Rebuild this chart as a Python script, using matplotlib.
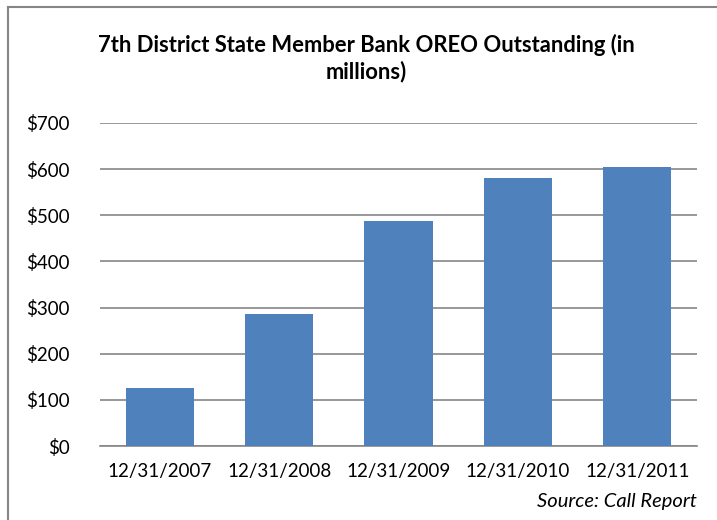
import matplotlib
matplotlib.use("Agg")
import matplotlib.pyplot as plt
from matplotlib.lines import Line2D
from matplotlib.ticker import FuncFormatter

categories = ["12/31/2007", "12/31/2008", "12/31/2009", "12/31/2010", "12/31/2011"]
values = [125, 286, 487, 580, 605]
yticks = [0, 100, 200, 300, 400, 500, 600, 700]

plt.rcParams['font.family'] = ['Lato', 'DejaVu Sans']

W, H = 717, 520
fig = plt.figure(figsize=(W/100, H/100), dpi=100)
ax = fig.add_axes([100/W, 1-446/H, 597/W, (446-123)/H])

x = list(range(len(categories)))
ax.bar(x, values, width=0.57, color="#4F81BD", zorder=3)
ax.set_xlim(-0.5, len(categories)-0.5)
ax.set_ylim(0, 700)
ax.set_yticks(yticks)
ax.yaxis.set_major_formatter(FuncFormatter(lambda v, p: f"${int(v)}"))
ax.set_xticks(x)
ax.set_xticklabels(categories)
ax.grid(axis='y', color='#868686', linewidth=1.2, zorder=0)
for s in ['top', 'right', 'left']:
    ax.spines[s].set_visible(False)
ax.spines['bottom'].set_color('#868686')
ax.spines['bottom'].set_linewidth(1.2)
ax.tick_params(axis='both', length=0, labelsize=13.5, colors='black')
ax.tick_params(axis='y', pad=22)
ax.tick_params(axis='x', pad=12)

fig.text(366/W, 1-58/H, "7th District State Member Bank OREO Outstanding (in\nmillions)",
         ha='center', va='center', fontsize=15.8, fontweight='bold', linespacing=1.3)
fig.text(697/W, 1-501/H, "Source: Call Report", ha='right', va='center',
         fontsize=14.5, style='italic')

fig.lines.append(Line2D([8/W, 8/W], [0, 1-7/H], transform=fig.transFigure,
                        color='#868686', linewidth=1.5))
fig.lines.append(Line2D([8/W, 1], [1-7/H, 1-7/H], transform=fig.transFigure,
                        color='#868686', linewidth=1.5))

fig.savefig("out.png", dpi=100)
